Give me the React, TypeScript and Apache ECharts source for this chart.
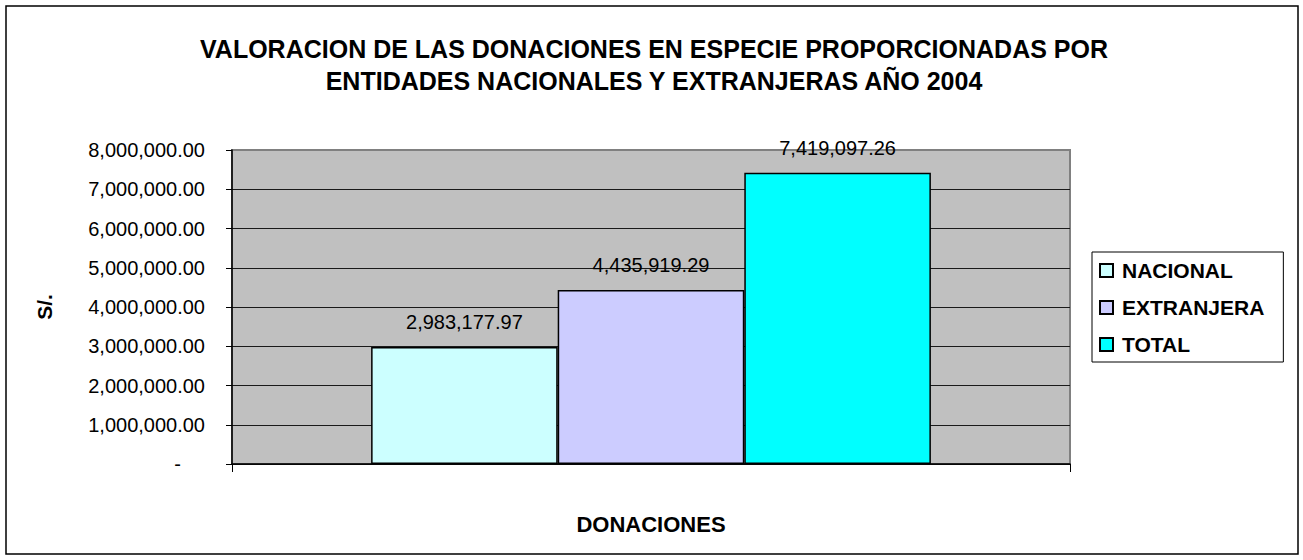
import React, { useEffect, useRef } from "react";
import * as echarts from "echarts";

const titleLines = [
  "VALORACION DE LAS DONACIONES EN ESPECIE PROPORCIONADAS POR",
  "ENTIDADES NACIONALES Y EXTRANJERAS AÑO 2004",
];
const categories = ["DONACIONES"];
const seriesNames = ["NACIONAL", "EXTRANJERA", "TOTAL"];
const seriesValues = [2983177.97, 4435919.29, 7419097.26];
const seriesColors = ["#CCFFFF", "#CCCCFF", "#00FFFF"];
const yAxisName = "S/.";
const xAxisName = "DONACIONES";
const yMin = 0;
const yMax = 8000000;
const yInterval = 1000000;

const fmt = (v: number) =>
  v.toLocaleString("en-US", { minimumFractionDigits: 2, maximumFractionDigits: 2 });

export default function App() {
  const ref = useRef<HTMLDivElement>(null);
  useEffect(() => {
    if (!ref.current) return;
    const chart = echarts.init(ref.current, undefined, { renderer: "svg" });
    const font = "Arial, 'Liberation Sans', sans-serif";
    chart.setOption({
      animation: false,
      backgroundColor: "#FFFFFF",
      textStyle: { fontFamily: font },
      title: {
        text: titleLines.join("\n"),
        left: 654,
        top: 33,
        textAlign: "center",
        padding: 0,
        textStyle: {
          fontFamily: font,
          fontSize: 25,
          fontWeight: "bold",
          color: "#000",
          lineHeight: 32,
        },
      },
      graphic: [
        {
          type: "rect",
          shape: { x: 6, y: 6, width: 1292, height: 548 },
          style: { fill: "none", stroke: "#000", lineWidth: 1.5 },
          silent: true,
          z: 100,
        },
      ],
      legend: {
        orient: "vertical",
        left: 1092,
        top: 252,
        padding: [8, 19, 7, 7],
        borderColor: "#000",
        borderWidth: 1,
        itemWidth: 13,
        itemHeight: 13,
        itemGap: 16,
        icon: "rect",
        data: seriesNames,
        textStyle: {
          fontFamily: font,
          fontSize: 21,
          fontWeight: "bold",
          color: "#000",
          lineHeight: 21,
          padding: [0, 0, 0, 4],
        },
      },
      grid: {
        left: 232,
        top: 150,
        width: 838,
        height: 314,
        show: true,
        backgroundColor: "#C0C0C0",
        borderColor: "#808080",
        borderWidth: 2,
        containLabel: false,
      },
      xAxis: {
        type: "category",
        data: categories,
        name: xAxisName,
        nameLocation: "middle",
        nameGap: 49,
        nameTextStyle: { fontFamily: font, fontSize: 22, fontWeight: "bold", color: "#000" },
        axisLine: { show: true, lineStyle: { color: "#000", width: 1.5 } },
        axisTick: { show: true, length: 8, lineStyle: { color: "#000" } },
        axisLabel: { show: false },
      },
      yAxis: {
        type: "value",
        min: yMin,
        max: yMax,
        interval: yInterval,
        name: yAxisName,
        nameLocation: "middle",
        nameRotate: 90,
        nameGap: 177,
        nameTextStyle: { fontFamily: font, fontSize: 21, fontWeight: "bold", color: "#000" },
        axisLine: { show: true, lineStyle: { color: "#000", width: 1.5 } },
        axisTick: { show: true, length: 6, inside: false, lineStyle: { color: "#000" } },
        axisLabel: {
          fontFamily: font,
          fontSize: 20,
          color: "#000",
          margin: 27,
          formatter: (v: number) => (v === 0 ? "{z|-}" : fmt(v)),
          rich: { z: { fontFamily: font, fontSize: 20, color: "#000", padding: [0, 24, 0, 0] } },
        },
        splitLine: { show: true, showMaxLine: false, lineStyle: { color: "#1a1a1a", width: 1 } },
      },
      series: seriesNames.map((name, i) => ({
        name,
        type: "bar",
        data: [seriesValues[i]],
        barGap: "0%",
        barCategoryGap: "33.2%",
        itemStyle: { color: seriesColors[i], borderColor: "#000", borderWidth: 1.5 },
        label: {
          show: true,
          position: "top",
          distance: 15,
          fontFamily: font,
          fontSize: 20,
          color: "#000",
          formatter: (p: any) => fmt(p.value),
        },
      })),
    });
    return () => chart.dispose();
  }, []);
  return (
    <div
      ref={ref}
      style={{ position: "absolute", left: 0, top: 0, width: 1303, height: 560 }}
    />
  );
}
